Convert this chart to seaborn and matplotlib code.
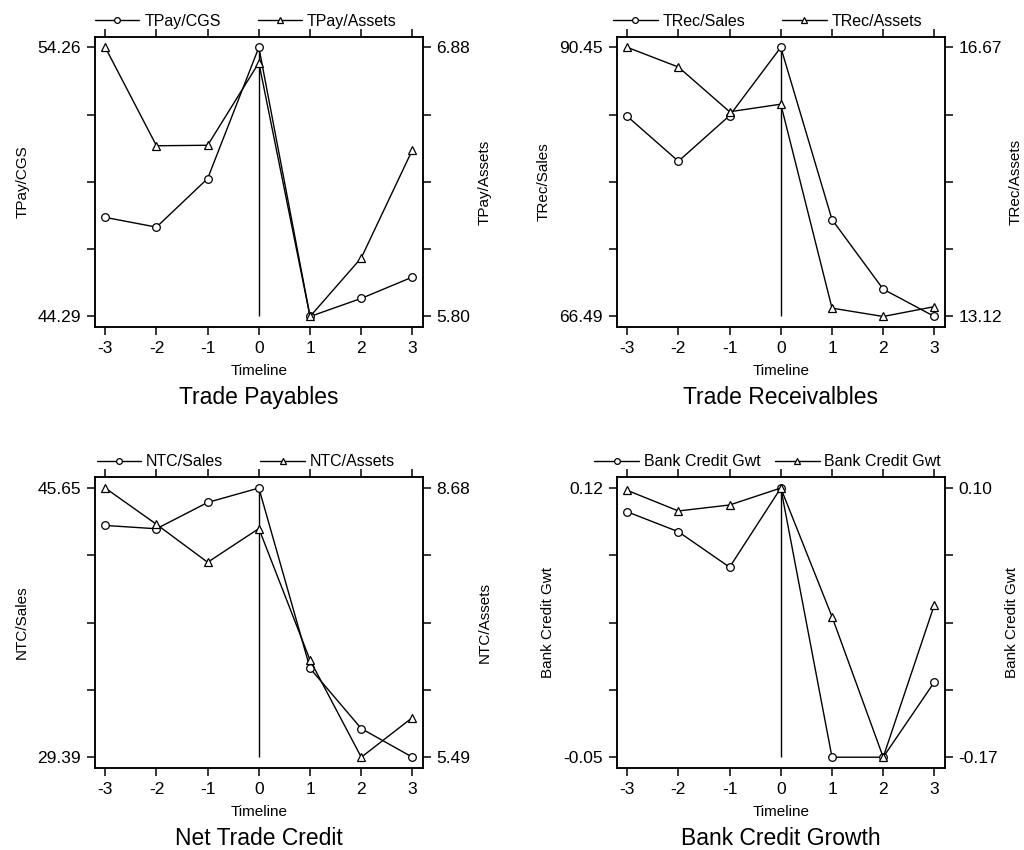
import numpy as np
import pandas as pd
import matplotlib
matplotlib.use("Agg")
import matplotlib.pyplot as plt
import seaborn as sns

# data
timeline = [-3, -2, -1, 0, 1, 2, 3]

tpay_cgs = [47.96, 47.60, 49.40, 54.26, 44.29, 44.96, 45.75]
tpay_assets = [6.88, 6.485, 6.487, 6.818, 5.80, 6.035, 6.469]

trec_sales = [84.31, 80.31, 84.37, 90.45, 75.12, 68.92, 66.49]
trec_assets = [16.67, 16.41, 15.82, 15.92, 13.23, 13.12, 13.25]

ntc_sales = [43.39, 43.19, 44.78, 45.65, 34.76, 31.12, 29.39]
ntc_assets = [8.68, 8.25, 7.80, 8.20, 6.64, 5.49, 5.96]

bank_gwt_sales = [0.105, 0.0924, 0.070, 0.12, -0.05, -0.05, -0.0025]
bank_gwt_assets = [0.0977, 0.077, 0.083, 0.10, -0.029, -0.17, -0.017]

panels = [
    ("Trade Payables", "TPay/CGS", tpay_cgs, "TPay/Assets", tpay_assets),
    ("Trade Receivalbles", "TRec/Sales", trec_sales, "TRec/Assets", trec_assets),
    ("Net Trade Credit", "NTC/Sales", ntc_sales, "NTC/Assets", ntc_assets),
    ("Bank Credit Growth", "Bank Credit Gwt", bank_gwt_sales, "Bank Credit Gwt", bank_gwt_assets),
]

positions = [
    [0.0928, 0.615, 0.320, 0.342],
    [0.6025, 0.615, 0.320, 0.342],
    [0.0928, 0.0965, 0.320, 0.342],
    [0.6025, 0.0965, 0.320, 0.342],
]
col_space = [2.3, 2.3, 2.3, 0.9]

sns.set_theme(style="ticks")
plt.rcParams['font.family'] = ['Liberation Sans', 'DejaVu Sans']
plt.rcParams['axes.linewidth'] = 1.1
plt.rcParams['text.color'] = 'black'

fig = plt.figure(figsize=(10.24, 8.5), dpi=100)

line_kw = dict(color="black", lw=1.0, markersize=5.5, markerfacecolor="white",
               markeredgecolor="black", markeredgewidth=0.9, legend=False)


def pad_limits(vals, frac=0.04):
    lo, hi = min(vals), max(vals)
    p = (hi - lo) * frac
    return lo - p, hi + p


for (title, lname, lvals, rname, rvals), pos, cs in zip(panels, positions, col_space):
    ax = fig.add_axes(pos)
    ax2 = ax.twinx()
    df = pd.DataFrame({"Timeline": timeline, "left": lvals, "right": rvals})

    sns.lineplot(data=df, x="Timeline", y="left", ax=ax, marker="o", **line_kw)
    sns.lineplot(data=df, x="Timeline", y="right", ax=ax2, marker="^", **line_kw)

    lo, hi = min(lvals), max(lvals)
    ax.vlines(0, lo, hi, color="black", lw=1.0, zorder=1)

    ax.set_xlim(-3.2, 3.2)
    ax.set_ylim(*pad_limits(lvals))
    ax2.set_ylim(*pad_limits(rvals))

    ax.set_yticks(np.linspace(lo, hi, 5))
    ax.set_yticklabels([f"{lo:.2f}", "", "", "", f"{hi:.2f}"])
    rlo, rhi = min(rvals), max(rvals)
    ax2.set_yticks(np.linspace(rlo, rhi, 5))
    ax2.set_yticklabels([f"{rlo:.2f}", "", "", "", f"{rhi:.2f}"])
    ax.set_xticks(timeline)
    ax.set_xticklabels([str(t) for t in timeline])

    ax.tick_params(axis="both", direction="out", length=6, width=1.1,
                   labelsize=12.5, color="black", labelcolor="black", pad=4)
    ax.tick_params(axis="x", top=True, bottom=True, labeltop=False)
    ax2.tick_params(axis="y", direction="out", length=6, width=1.1,
                    labelsize=12.5, color="black", labelcolor="black", pad=4)

    ax.set_xlabel("Timeline", fontsize=11, color="black", labelpad=6)
    ax.set_ylabel(lname, fontsize=11, color="black", labelpad=6)
    ax2.set_ylabel(rname, fontsize=11, color="black", labelpad=5)

    for a in (ax, ax2):
        for s in a.spines.values():
            s.set_color("black")
            s.set_linewidth(1.1)

    ax.text(0.5, -0.243, title, transform=ax.transAxes, ha="center",
            va="center", fontsize=16.5, color="black")

    ax2.legend([ax.lines[0], ax2.lines[0]], [lname, rname],
               loc="lower center", bbox_to_anchor=(0.46, 1.005), ncol=2,
               frameon=False, fontsize=11.5, handlelength=2.8,
               handletextpad=0.3, columnspacing=cs, borderaxespad=0,
               markerscale=0.75, labelcolor="black")

fig.savefig("out.png", dpi=100, facecolor="white")
